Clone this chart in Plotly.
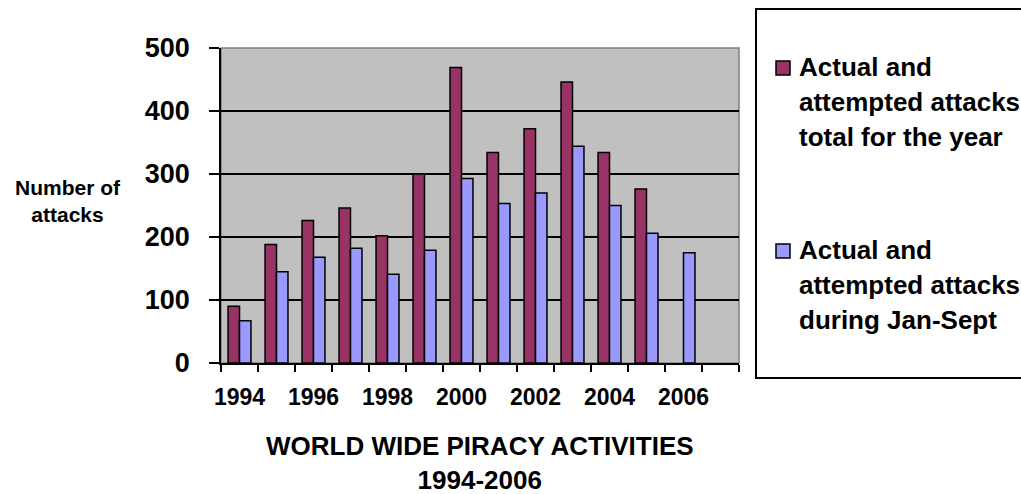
import plotly.graph_objects as go

years = ["1994", "1995", "1996", "1997", "1998", "1999", "2000",
         "2001", "2002", "2003", "2004", "2005", "2006", "2007"]
total_year = [90, 188, 226, 246, 202, 300, 469, 334, 372, 446, 334, 276, None, None]
jan_sept = [67, 145, 168, 182, 141, 179, 293, 253, 270, 344, 250, 206, 175, None]
tick_labels = ["1994", "", "1996", "", "1998", "", "2000", "", "2002", "",
               "2004", "", "2006", ""]
series_names = ["Actual and<br>attempted attacks<br>total for the year",
                "Actual and<br>attempted attacks<br>during Jan-Sept"]

RED = "#993366"
BLUE = "#9999FF"
FONT = "Liberation Sans, Arial, sans-serif"

W, H = 1021, 494
L, R, T, B = 221, 739, 48, 363


def px(x):
    return (x - L) / (R - L)


def py(y):
    return (B - y) / (B - T)


fig = go.Figure()
fig.add_trace(go.Bar(x=years, y=total_year, name=series_names[0],
                     marker=dict(color=RED, line=dict(color="black", width=1.5))))
fig.add_trace(go.Bar(x=years, y=jan_sept, name=series_names[1],
                     marker=dict(color=BLUE, line=dict(color="black", width=1.5))))

shapes = []
# plot area border (gray)
shapes.append(dict(type="rect", xref="paper", yref="paper", x0=0, x1=1, y0=0, y1=1,
                   line=dict(color="#808080", width=1.5), layer="below"))
# legend box
shapes.append(dict(type="rect", xref="paper", yref="paper",
                   x0=px(756), x1=px(1040), y0=py(378), y1=py(9),
                   line=dict(color="black", width=2), fillcolor="white"))
annotations = []
legend_rows = [(RED, 61, 57), (BLUE, 244, 240)]
for (col, my, ty), name in zip(legend_rows, series_names):
    shapes.append(dict(type="rect", xref="paper", yref="paper",
                       x0=px(776), x1=px(790), y0=py(my + 14), y1=py(my),
                       line=dict(color="black", width=1.5), fillcolor=col))
    for i, line in enumerate(name.split("<br>")):
        annotations.append(dict(text="<b>" + line + "</b>", xref="paper", yref="paper",
                                x=px(797), y=py(ty - 7 + i * 35), xanchor="left", yanchor="top",
                                showarrow=False,
                                font=dict(family=FONT, size=26, color="black")))

annotations.append(dict(text="<b>Number of</b><br><b>attacks</b>", xref="paper", yref="paper",
                        x=px(68), y=py(201), xanchor="center", yanchor="middle",
                        showarrow=False, align="center",
                        font=dict(family=FONT, size=21, color="black")))
annotations.append(dict(text="<b>WORLD WIDE PIRACY ACTIVITIES</b><br><b>1994-2006</b>",
                        xref="paper", yref="paper",
                        x=0.5, y=py(463), xanchor="center", yanchor="middle",
                        showarrow=False, align="center",
                        font=dict(family=FONT, size=26, color="black")))

fig.update_layout(
    width=W, height=H,
    margin=dict(l=L, r=W - R, t=T, b=H - B, pad=0),
    paper_bgcolor="white", plot_bgcolor="#C0C0C0",
    barmode="group", bargap=0.38, bargroupgap=0,
    showlegend=False,
    shapes=shapes, annotations=annotations,
    font=dict(family=FONT, color="black"),
)
fig.update_xaxes(type="category", categoryorder="array", categoryarray=years,
                 range=[-0.5, len(years) - 0.5],
                 tickmode="array", tickvals=years, ticktext=tick_labels,
                 tickson="boundaries", ticks="outside", ticklen=7, tickwidth=1.5,
                 tickcolor="black", showline=True, linecolor="black", linewidth=1.5,
                 showgrid=False, tickangle=0, ticklabelstandoff=13,
                 tickfont=dict(family=FONT, size=23, color="black", weight="bold"))
fig.update_yaxes(range=[0, 500], tickmode="array", tickvals=[0, 100, 200, 300, 400, 500],
                 ticks="outside", ticklen=10, tickwidth=1.5, tickcolor="black",
                 showline=True, linecolor="black", linewidth=1.5,
                 showgrid=True, gridcolor="black", gridwidth=1.5,
                 zeroline=False, ticklabelstandoff=14,
                 tickfont=dict(family=FONT, size=27, color="black", weight="bold"))

fig.write_html("out.html")
